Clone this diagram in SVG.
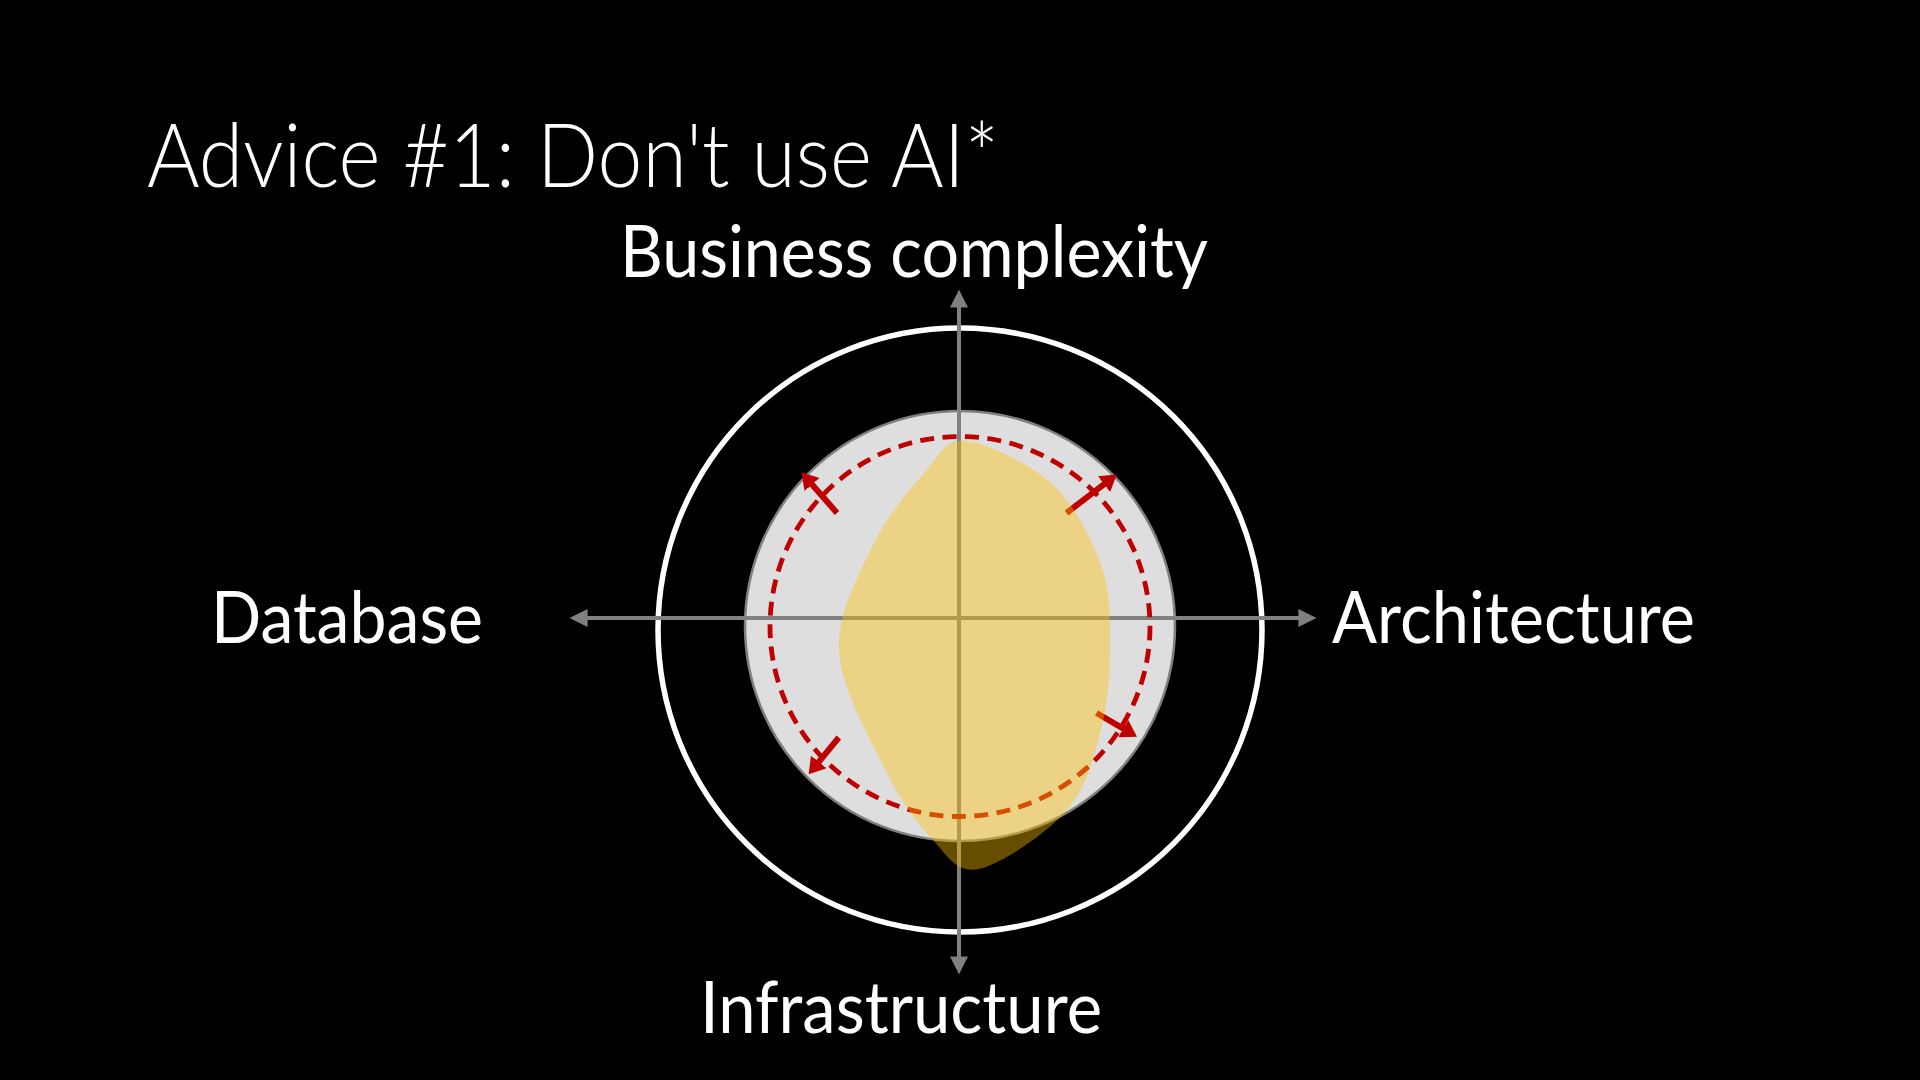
<svg xmlns="http://www.w3.org/2000/svg" width="1920" height="1080" viewBox="0 0 1920 1080">
<style>
  .lbl { font-family: Lato, "Open Sans", "Liberation Sans", sans-serif; fill: #ffffff; font-size: 72px; }
  .title { font-family: Lato, "Open Sans", "Liberation Sans", sans-serif; fill: #ffffff; font-size: 88px; font-weight: 300; }
  .axis { stroke: #808080; stroke-width: 4; fill: none; }
  .grow { stroke: #c00000; stroke-width: 6; fill: none; }
</style>
<defs>
  <marker id="axHead" viewBox="0 0 10 10" refX="7" refY="5" markerUnits="userSpaceOnUse" markerWidth="18" markerHeight="18" orient="auto-start-reverse">
    <path d="M0,0 L10,5 L0,10 z" fill="#808080"/>
  </marker>
  <marker id="redHead" viewBox="0 0 16 20" refX="8" refY="10" markerUnits="userSpaceOnUse" markerWidth="16" markerHeight="20" orient="auto">
    <path d="M0,0 L16,10 L0,20 z" fill="#c00000"/>
  </marker>
</defs>
<rect x="0" y="0" width="1920" height="1080" fill="#000000"/>

<g id="title">
  <text class="title" x="147" y="187" textLength="852" lengthAdjust="spacingAndGlyphs">Advice #1: Don't use AI*</text>
</g>

<g id="outer-circle">
  <circle cx="960" cy="630" r="302" fill="none" stroke="#ffffff" stroke-width="5.5"/>
</g>

<g id="current-scope">
  <circle cx="960" cy="626" r="215" fill="#dedede" stroke="#7f7f7f" stroke-width="2.5"/>
</g>

<g id="connectors">
  <line class="axis" x1="575" y1="618" x2="1311" y2="618" marker-start="url(#axHead)" marker-end="url(#axHead)"/>
  <line class="axis" x1="959" y1="295" x2="959" y2="969" marker-start="url(#axHead)" marker-end="url(#axHead)"/>
</g>

<g id="growth-ring">
  <circle cx="960" cy="626.5" r="190" fill="none" stroke="#c00000" stroke-width="4.8" stroke-dasharray="14 8.5"/>
  <line class="grow" x1="837" y1="513" x2="806.8" y2="478.5" marker-end="url(#redHead)"/>
  <line class="grow" x1="1066.5" y1="513" x2="1110.4" y2="479.4" marker-end="url(#redHead)"/>
  <line class="grow" x1="1096.5" y1="713" x2="1130.1" y2="732.7" marker-end="url(#redHead)"/>
  <line class="grow" x1="838.8" y1="737.5" x2="813.7" y2="768.1" marker-end="url(#redHead)"/>
</g>

<g id="ai-blob">
  <path d="M966,441 C987,443.2 1029.5,463.3 1052,484 C1074.5,504.7 1091.3,537.8 1101,565 C1110.7,592.2 1110,619.7 1110,647 C1110,674.3 1108.2,701.8 1101,729 C1093.8,756.2 1087.3,786.7 1067,810 C1046.7,833.3 1001.5,864.2 979,869 C956.5,873.8 947.7,855.7 932,839 C916.3,822.3 900.5,800.3 885,769 C869.5,737.7 841,688.3 839,651 C837,613.7 858.5,575 873,545 C887.5,515 910.5,488.3 926,471 C941.5,453.7 945,438.8 966,441 Z" fill="#ffc000" fill-opacity="0.4"/>
</g>

<g id="label-business">
  <text class="lbl" x="620" y="277" textLength="588" lengthAdjust="spacingAndGlyphs">Business complexity</text>
</g>
<g id="label-database">
  <text class="lbl" x="211" y="643" textLength="272" lengthAdjust="spacingAndGlyphs">Database</text>
</g>
<g id="label-architecture">
  <text class="lbl" x="1332" y="643" textLength="363" lengthAdjust="spacingAndGlyphs">Architecture</text>
</g>
<g id="label-infrastructure">
  <text class="lbl" x="700" y="1033" textLength="402" lengthAdjust="spacingAndGlyphs">Infrastructure</text>
</g>
</svg>
